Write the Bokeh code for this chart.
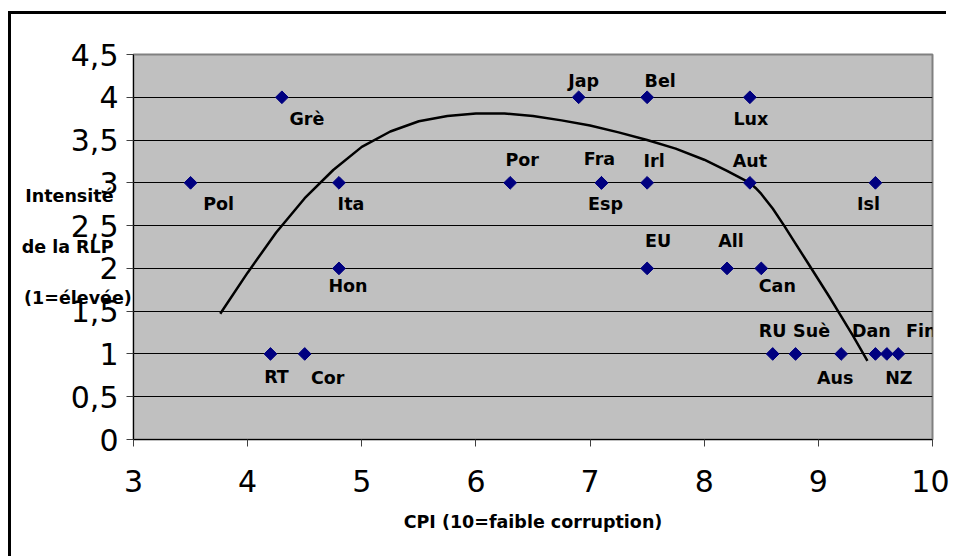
import numpy as np
from bokeh.plotting import figure
from bokeh.models import FixedTicker, ColumnDataSource, GlobalInlineStyleSheet
from bokeh.core.properties import value
from bokeh.embed import file_html
from bokeh.resources import INLINE

# ---- data ----
countries = ["Pol", "Grè", "RT", "Cor", "Ita", "Hon", "Por", "Jap", "Fra", "Esp",
             "Bel", "Irl", "EU", "Lux", "Aut", "All", "Can", "Isl", "RU", "Suè",
             "Aus", "Dan", "NZ", "Fin"]
cpi = [3.5, 4.3, 4.2, 4.5, 4.8, 4.8, 6.3, 6.9, 7.1, 7.1,
       7.5, 7.5, 7.5, 8.4, 8.4, 8.2, 8.5, 9.5, 8.6, 8.8,
       9.2, 9.5, 9.6, 9.7]
rlp = [3, 4, 1, 1, 3, 2, 3, 4, 3, 3,
       4, 3, 2, 4, 3, 2, 2, 3, 1, 1,
       1, 1, 1, 1]

# hand-drawn trend curve
curve_x = [3.76, 4.0, 4.25, 4.5, 4.75, 5.0, 5.25, 5.5, 5.75, 6.0, 6.25, 6.5,
           6.75, 7.0, 7.25, 7.5, 7.75, 8.0, 8.2, 8.3, 8.4, 8.45, 8.5, 8.6,
           8.7, 8.8, 8.9, 9.0, 9.1, 9.2, 9.3, 9.43]
curve_y = [1.47, 1.95, 2.42, 2.82, 3.15, 3.42, 3.60, 3.72, 3.78, 3.81, 3.81, 3.78,
           3.73, 3.67, 3.59, 3.50, 3.40, 3.27, 3.14, 3.07, 3.00, 2.94, 2.87, 2.70,
           2.50, 2.29, 2.08, 1.87, 1.66, 1.44, 1.22, 0.92]

x_ticks = [3, 4, 5, 6, 7, 8, 9, 10]
y_ticks = [0, 0.5, 1, 1.5, 2, 2.5, 3, 3.5, 4, 4.5]
y_tick_labels = ["0", "0,5", "1", "1,5", "2", "2,5", "3", "3,5", "4", "4,5"]

x_title = "CPI (10=faible corruption)"
y_title_lines = ["Intensité", "de la RLP", "(1=élevée)"]

# label placement (screen pixels, relative to each point)
label_dx = [28, 25, 6, 23, 12, 9, 12, 5, -2, 4,
            13, 7, 11, 1, 0, 4, 16, -7, 0, 16,
            -6, -4, 12, 23]
label_dy = [21, 22, 23, 24, 21, 18, -23, -16, -24, 21,
            -16, -22, -27, 22, -22, -27, 18, 21, -23, -23,
            24, -23, 24, -23]

# ---- figure ----
p = figure(width=938, height=545, x_range=(3, 10), y_range=(0, 4.5),
           output_backend="svg", toolbar_location=None,
           min_border_left=122, min_border_right=17,
           min_border_top=40, min_border_bottom=120)
# outer chart border: only its top and left edges fall inside the window
p.styles = {"margin-left": "11px", "margin-top": "14px",
            "background-color": "white",
            "box-shadow": "-3px -3px 0px 0px black"}
p.stylesheets = [GlobalInlineStyleSheet(css="html, body { overflow: hidden; }")]
p.background_fill_color = "#C0C0C0"
p.border_fill_color = "white"
p.outline_line_color = "#808080"
p.outline_line_width = 2

p.xgrid.grid_line_color = None
p.ygrid.ticker = FixedTicker(ticks=y_ticks)
p.ygrid.grid_line_color = "black"
p.ygrid.grid_line_width = 1

for ax in (p.xaxis[0], p.yaxis[0]):
    ax.axis_line_color = "black"
    ax.axis_line_width = 1
    ax.major_tick_out = 7
    ax.major_tick_in = 0
    ax.major_tick_line_color = "#404040"
    ax.minor_tick_line_color = None
    ax.major_label_text_font = "DejaVu Sans"
    ax.major_label_text_font_size = "30px"
    ax.major_label_text_color = "black"
    ax.axis_label_text_font = "DejaVu Sans"
    ax.axis_label_text_font_style = "bold"
    ax.axis_label_text_font_size = "17.5px"
    ax.axis_label_text_color = "black"

p.xaxis.ticker = FixedTicker(ticks=x_ticks)
p.xaxis.major_label_standoff = 23
p.yaxis.ticker = FixedTicker(ticks=y_ticks)
p.yaxis.major_label_overrides = {t: s for t, s in zip(y_ticks, y_tick_labels)}
p.yaxis.major_label_standoff = 8

p.xaxis.axis_label = x_title
p.xaxis.axis_label_standoff = 17

# y-axis title: three horizontal lines overlapping the tick label area
# (non-breaking spaces pad the shorter lines so the block reads left-aligned)
pad = ["\u00a0\u00a0\u00a0", "\u00a0\u00a0\u00a0", ""]
p.yaxis.axis_label = "\n".join(t + s for t, s in zip(y_title_lines, pad))
p.yaxis.axis_label_orientation = "horizontal"
p.yaxis.axis_label_text_line_height = 2.55
p.yaxis.axis_label_standoff = -64

# trend curve
p.line(curve_x, curve_y, line_color="black", line_width=2.5, line_join="round")

# points
src = ColumnDataSource(dict(x=cpi, y=rlp, name=countries, dx=label_dx, dy=label_dy))
p.scatter("x", "y", source=src, marker="square", angle=np.pi / 4, size=9,
          fill_color="#000080", line_color="#000080")

p.text("x", "y", text="name", source=src, x_offset="dx", y_offset="dy",
       text_font=value("DejaVu Sans"), text_font_style="bold",
       text_font_size="17.5px", text_color="black",
       text_align="center", text_baseline="middle")

open("out.html", "w").write(file_html(p, INLINE))
